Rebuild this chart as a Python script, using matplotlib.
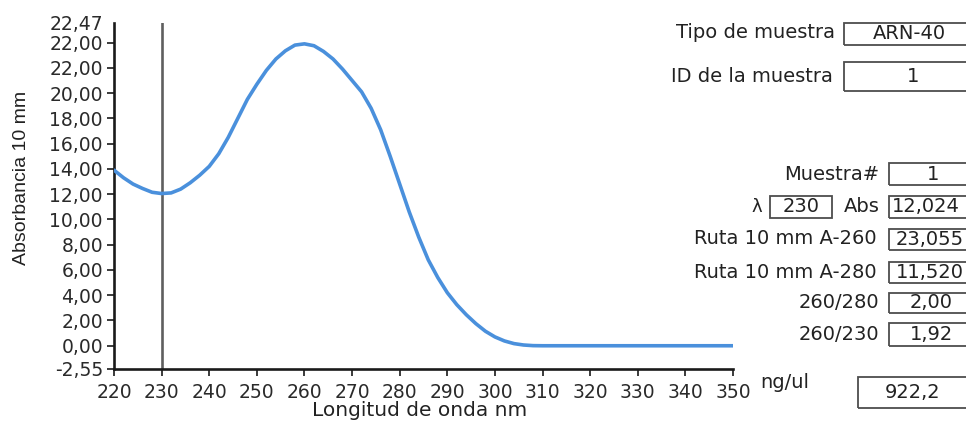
import matplotlib
matplotlib.use("Agg")
import matplotlib.pyplot as plt
from matplotlib.patches import Rectangle
from matplotlib import font_manager

# ---------------- data ----------------
wavelength = [220, 222, 224, 226, 228, 230, 232, 234, 236, 238, 240, 242, 244, 246,
              248, 250, 252, 254, 256, 258, 260, 262, 264, 266, 268, 270, 272, 274,
              276, 278, 280, 282, 284, 286, 288, 290, 292, 294, 296, 298, 300, 302,
              304, 306, 308, 310, 320, 330, 340, 350]
absorbance = [13.9, 13.3, 12.8, 12.45, 12.15, 12.05, 12.1, 12.4, 12.9, 13.5, 14.2, 15.2,
              16.5, 18.0, 19.5, 20.7, 21.8, 22.7, 23.35, 23.8, 23.9, 23.75, 23.3, 22.7,
              21.9, 21.0, 20.1, 18.8, 17.1, 15.0, 12.8, 10.6, 8.6, 6.8, 5.4, 4.2, 3.25,
              2.45, 1.75, 1.15, 0.7, 0.38, 0.17, 0.06, 0.01, 0.0, 0.0, 0.0, 0.0, 0.0]
marker_wavelength = 230

x_ticks = [220, 230, 240, 250, 260, 270, 280, 290, 300, 310, 320, 330, 340, 350]
y_limits = [-1.84, 25.55]
y_ticks = [-1.84, 0, 2, 4, 6, 8, 10, 12, 14, 16, 18, 20, 22, 24, 25.55]
y_tick_labels = ["-2,55", "0,00", "2,00", "4,00", "6,00", "8,00", "10,00", "12,00",
                 "14,00", "16,00", "18,00", "20,00", "22,00", "22,00", "22,47"]

panel_labels = ["Tipo de muestra", "ID de la muestra", "Muestra#", "Abs",
                "Ruta 10 mm A-260", "Ruta 10 mm A-280", "260/280", "260/230"]
panel_values = ["ARN-40", "1", "1", "12,024", "23,055", "11,520", "2,00", "1,92"]
lambda_value = "230"
conc_label = "ng/ul"
conc_value = "922,2"

# ---------------- figure ----------------
W, H = 966, 424
fig = plt.figure(figsize=(W / 100, H / 100), dpi=100)

avail = {f.name for f in font_manager.fontManager.ttflist}
narrow = "Liberation Sans Narrow" if "Liberation Sans Narrow" in avail else "Liberation Sans"
ylab_size = 15.5 if narrow == "Liberation Sans Narrow" else 14

ax_left, ax_right, ax_top, ax_bottom = 114, 733, 23, 369
ax = fig.add_axes([ax_left / W, 1 - ax_bottom / H,
                   (ax_right - ax_left) / W, (ax_bottom - ax_top) / H])

ax.plot(wavelength, absorbance, color="#4A90DC", lw=2.6, solid_capstyle="round",
        solid_joinstyle="round", zorder=3)
ax.axvline(marker_wavelength, color="#5f5f5f", lw=1.9, zorder=2)

ax.set_xlim(220, 350)
ax.set_ylim(*y_limits)
ax.set_xticks(x_ticks)
ax.set_xticklabels([str(t) for t in x_ticks])
ax.set_yticks(y_ticks)
ax.set_yticklabels(y_tick_labels)

for s in ["top", "right"]:
    ax.spines[s].set_visible(False)
for s in ["left", "bottom"]:
    ax.spines[s].set_linewidth(1.9)
    ax.spines[s].set_color("#1a1a1a")

ax.tick_params(axis="both", direction="out", length=5, width=1.2, color="#1a1a1a",
               labelsize=13.5, labelcolor="#2a2a2a")
ax.tick_params(axis="x", pad=5)
ax.tick_params(axis="y", pad=3)
ax.yaxis.get_major_ticks()[-1].tick1line.set_visible(False)

ax.set_xlabel("Longitud de onda nm", fontsize=14.5, color="#222222", va="center")
ax.xaxis.set_label_coords((419.5 - ax_left) / (ax_right - ax_left),
                          (ax_bottom - 411) / (ax_bottom - ax_top))
ax.set_ylabel("Absorbancia 10 mm", fontsize=ylab_size, color="#222222", va="center",
              family=[narrow, "DejaVu Sans"])
ax.yaxis.set_label_coords((22 - ax_left) / (ax_right - ax_left),
                          (ax_bottom - 178) / (ax_bottom - ax_top))

# ---------------- right panel ----------------
def fx(x):
    return x / W

def fy(y):
    return 1 - y / H

FS = 14
TC = "#222222"

def box(x0, y0, x1, y1):
    fig.patches.append(Rectangle((fx(x0), fy(y1)), fx(x1) - fx(x0), fy(y0) - fy(y1),
                                 transform=fig.transFigure, fill=False,
                                 edgecolor="#4d4d4d", lw=1.3))

label_pos = [(835, 33), (833, 77), (879, 174), (880, 207),
             (877, 239), (877, 272), (879, 303), (879, 334)]
box_pos = [(844, 22.7, 1010, 45), (844, 61.7, 1010, 90.7), (889, 163, 1010, 185.3),
           (889, 196, 1010, 218), (889, 229, 1010, 250), (889, 261.7, 1010, 282.7),
           (889, 292.7, 1010, 313.3), (889, 323, 1010, 345.7)]
value_x = [909, 913, 933, 926, 930, 930, 931, 931]

for lab, (lx, ly), (bx0, by0, bx1, by1), vx, val in zip(panel_labels, label_pos, box_pos,
                                                         value_x, panel_values):
    fig.text(fx(lx), fy(ly), lab, ha="right", va="center", fontsize=FS, color=TC)
    box(bx0, by0, bx1, by1)
    fig.text(fx(vx), fy((by0 + by1) / 2), val, ha="center", va="center", fontsize=FS, color=TC)

fig.text(fx(757), fy(207), "λ", ha="center", va="center", fontsize=FS - 1, color=TC)
box(770, 196, 832, 218)
fig.text(fx(801), fy(207), lambda_value, ha="center", va="center", fontsize=FS, color=TC)

fig.text(fx(760), fy(383), conc_label, ha="left", va="center", fontsize=FS, color=TC)
box(858, 376.7, 1010, 408.3)
fig.text(fx(913), fy(393), conc_value, ha="center", va="center", fontsize=FS, color=TC)

fig.savefig("out.png", dpi=100, facecolor="white")
